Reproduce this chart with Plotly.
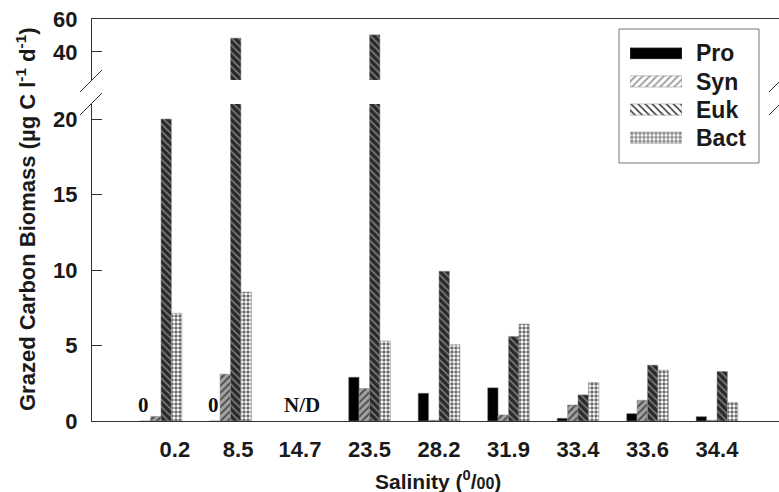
import plotly.graph_objects as go

# ---------------- data ----------------
salinity = ["0.2", "8.5", "14.7", "23.5", "28.2", "31.9", "33.4", "33.6", "34.4"]
pro = [0, 0, None, 2.9, 1.84, 2.2, 0.18, 0.49, 0.29]
syn = [0.3, 3.1, None, 2.15, 0.05, 0.4, 1.06, 1.37, 0.05]
euk = [20.0, 48.4, None, 50.4, 9.92, 5.6, 1.73, 3.7, 3.28]
bact = [7.13, 8.54, None, 5.3, 5.05, 6.42, 2.55, 3.37, 1.22]
zero_labels = {"0.2": "0", "8.5": "0", "14.7": "N/D"}
series_names = ["Pro", "Syn", "Euk", "Bact"]

# ---------------- styles ----------------
W, H = 779, 492
ML, MR, MT, MB = 92, 0, 19, 71
PW, PH = W - ML - MR, H - MT - MB


def px_x(x):
    return (x - ML) / PW


def px_y(y):
    return (H - MB - y) / PH


styles = {
    "Pro": dict(color="#000000", pattern=dict(shape="")),
    "Syn": dict(color="#9c9c9c",
                pattern=dict(shape="/", bgcolor="#a2a2a2", fgcolor="#4a4a4a",
                             size=5, solidity=0.35, fillmode="replace")),
    "Euk": dict(color="#333333",
                pattern=dict(shape="\\", bgcolor="#2a2a2a", fgcolor="#808080",
                             size=5, solidity=0.3, fillmode="replace")),
    "Bact": dict(color="#8a8a8a",
                 pattern=dict(shape=".", bgcolor="#5a5a5a", fgcolor="#f4f4f4",
                              size=4, solidity=0.6, fillmode="replace")),
}

values = {"Pro": pro, "Syn": syn, "Euk": euk, "Bact": bact}
xpos = list(range(len(salinity)))

fig = go.Figure()
for ax in [("x", "y"), ("x2", "y2")]:
    for name in series_names:
        st = styles[name]
        fig.add_trace(go.Bar(
            x=xpos, y=values[name], name=name,
            xaxis=ax[0], yaxis=ax[1],
            marker=dict(color=st["color"], pattern=st["pattern"],
                        line=dict(width=0.5, color="#888888")),
            showlegend=False, hoverinfo="skip"))

# custom legend drawn as a small horizontal bar chart
fig.add_trace(go.Bar(
    x=[1] * 4, y=series_names, orientation="h", base=0, width=0.4,
    xaxis="x3", yaxis="y3", showlegend=False, hoverinfo="skip",
    marker=dict(
        color=[styles[n]["color"] for n in series_names],
        pattern=dict(
            shape=[styles[n]["pattern"].get("shape", "") for n in series_names],
            bgcolor=[styles[n]["pattern"].get("bgcolor", "#000") for n in series_names],
            fgcolor=[styles[n]["pattern"].get("fgcolor", "#000") for n in series_names],
            size=[styles[n]["pattern"].get("size", 5) for n in series_names],
            solidity=[styles[n]["pattern"].get("solidity", 0.3) for n in series_names],
            fillmode="replace"),
        line=dict(width=0.5, color="#888888"))))

font_main = dict(family="Liberation Sans, Arial, sans-serif", size=21,
                 color="#1a1a1a", weight="bold")

label_shift = [0.2, 0.11, 0, 0, 0, 0, 0, 0, 0]
x_range = [-0.993, 8.892]

annotations = []
# zero / N/D labels
for i, s in enumerate(salinity):
    if s in zero_labels:
        txt = zero_labels[s]
        xa = i - 0.25 if txt == "0" else i + 0.03
        annotations.append(dict(
            x=xa, y=0, xref="x", yref="y", text=txt, showarrow=False,
            yanchor="bottom", yshift=2,
            font=dict(family="Liberation Serif, Times New Roman, serif",
                      size=21, color="#111111", weight="bold")))
# legend labels (rows of the legend box)
leg_rows_px = [53.3, 81.7, 110.0, 137.7]
for n, ry in zip(series_names, leg_rows_px):
    annotations.append(dict(
        x=px_x(694), y=px_y(ry), xref="paper", yref="paper", text=n,
        showarrow=False, xanchor="left", yanchor="middle",
        font=dict(family="Liberation Sans, Arial, sans-serif", size=23,
                  color="#1a1a1a", weight="bold")))
# axis titles
annotations.append(dict(
    x=px_x(26), y=px_y(219), xref="paper", yref="paper",
    text="Grazed Carbon Biomass (µg C l<sup>-1</sup> d<sup>-1</sup>)",
    textangle=-90, showarrow=False, xanchor="center", yanchor="middle",
    font=dict(family="Liberation Sans, Arial, sans-serif", size=22,
              color="#1a1a1a", weight="bold")))
annotations.append(dict(
    x=px_x(438), y=px_y(480), xref="paper", yref="paper",
    text="Salinity (<sup>0</sup>/<span style='font-size:16px'>00</span>)",
    showarrow=False, xanchor="center", yanchor="middle",
    font=dict(family="Liberation Sans, Arial, sans-serif", size=21,
              color="#1a1a1a", weight="bold")))

shapes = []
# legend box
shapes.append(dict(type="rect", xref="paper", yref="paper",
                   x0=px_x(619), x1=px_x(759), y0=px_y(163), y1=px_y(29),
                   line=dict(color="#777777", width=1), fillcolor="white",
                   layer="below"))
# axis break marks (left and right)
for cx in [91, 780]:
    for cy in [81, 104]:
        shapes.append(dict(type="line", xref="paper", yref="paper",
                           x0=px_x(cx - 11), y0=px_y(cy + 11),
                           x1=px_x(cx + 11), y1=px_y(cy - 11),
                           line=dict(color="#333333", width=1)))

fig.update_layout(
    width=W, height=H,
    margin=dict(l=ML, r=MR, t=MT, b=MB, pad=0),
    paper_bgcolor="white", plot_bgcolor="rgba(0,0,0,0)",
    font=font_main,
    barmode="group", bargap=0.4, bargroupgap=0,
    showlegend=False,
    xaxis=dict(domain=[0, 1], range=x_range, anchor="y",
               tickvals=[i + d for i, d in zip(xpos, label_shift)],
               ticktext=salinity, ticks="", ticklabelstandoff=9,
               tickfont=dict(size=22),
               showline=True, linecolor="#333333", linewidth=1,
               showgrid=False, zeroline=False, fixedrange=True),
    xaxis2=dict(domain=[0, 1], matches="x", anchor="y2", side="top",
                showticklabels=False, ticks="", showline=True,
                linecolor="#333333", linewidth=1,
                showgrid=False, zeroline=False),
    yaxis=dict(domain=[0, px_y(104)], range=[0, (H - MB - 104) / 15.1],
               tickvals=[0, 5, 10, 15, 20], ticks="inside", ticklen=10,
               tickcolor="#333333", ticklabelstandoff=9,
               tickfont=dict(size=22),
               showline=True, linecolor="#333333", linewidth=1,
               showgrid=False, zeroline=False),
    yaxis2=dict(domain=[px_y(80), 1], range=[23.0, 60],
                tickvals=[40, 60], ticks="inside", ticklen=10,
                tickcolor="#333333", ticklabelstandoff=9,
                tickfont=dict(size=22),
                showline=True, linecolor="#333333", linewidth=1,
                showgrid=False, zeroline=False),
    xaxis3=dict(domain=[px_x(630), px_x(682)], range=[0, 1], anchor="y3",
                visible=False),
    yaxis3=dict(domain=[px_y(151.7), px_y(39.3)], range=[3.5, -0.5],
                anchor="x3", type="category", visible=False),
    annotations=annotations,
    shapes=shapes,
)

fig.write_html("out.html")
